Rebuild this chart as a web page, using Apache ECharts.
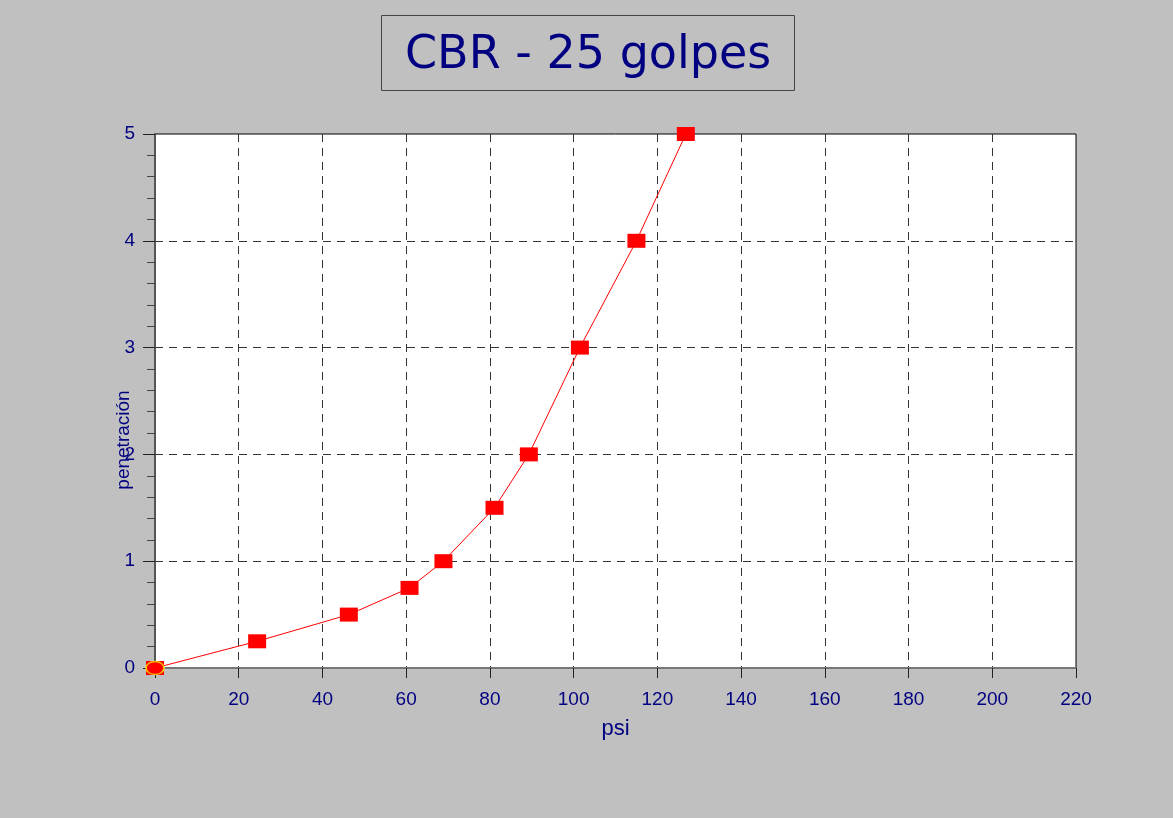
<!DOCTYPE html>
<html>
<head>
<meta charset="utf-8">
<script src="https://cdn.jsdelivr.net/npm/echarts@6/dist/echarts.min.js"></script>
<style>
  html, body { margin: 0; padding: 0; background: #c0c0c0; }
  #chart { width: 1173px; height: 818px; }
</style>
</head>
<body>
<div id="chart"></div>
<script>
// CBR curve, 25 blows: load (psi) vs penetration
const psi = [0, 24.4, 46.3, 60.8, 68.9, 81.1, 89.3, 101.5, 115.0, 126.8];
const penetracion = [0, 0.25, 0.5, 0.75, 1, 1.5, 2, 3, 4, 5];
const xTicks = [0, 20, 40, 60, 80, 100, 120, 140, 160, 180, 200, 220];
const yTicks = [0, 1, 2, 3, 4, 5];

const navy = '#000080';
const points = psi.map(function (x, i) { return [x, penetracion[i]]; });

const chart = echarts.init(document.getElementById('chart'));
chart.setOption({
  animation: false,
  backgroundColor: '#c0c0c0',
  title: {
    text: 'CBR - 25 golpes',
    left: 381, top: 15,
    padding: [18, 24, 12, 24],
    backgroundColor: '#c0c0c0',
    borderColor: '#444',
    borderWidth: 1,
    textStyle: { color: navy, fontSize: 46, fontWeight: 'normal', fontFamily: 'DejaVu Sans' }
  },
  grid: {
    left: 155, right: 97, top: 134, bottom: 150,
    show: true, backgroundColor: '#fff', borderColor: '#000', borderWidth: 1
  },
  xAxis: {
    type: 'value',
    min: xTicks[0], max: xTicks[xTicks.length - 1], interval: 20,
    name: 'psi', nameLocation: 'middle', nameGap: 50,
    nameTextStyle: { color: navy, fontSize: 22, fontFamily: 'Liberation Sans' },
    axisLine: { show: true, onZero: false, lineStyle: { color: '#777', width: 2 } },
    axisTick: { show: true, length: 10, lineStyle: { color: '#222' } },
    axisLabel: { color: navy, fontSize: 19, fontFamily: 'Liberation Sans', margin: 22 },
    splitLine: { show: true, showMinLine: false, showMaxLine: false, lineStyle: { color: '#333', type: [8, 6], width: 1 } }
  },
  yAxis: {
    type: 'value',
    min: yTicks[0], max: yTicks[yTicks.length - 1], interval: 1,
    name: 'penetración', nameLocation: 'middle', nameGap: 22, nameMoveOverlap: false,
    nameTextStyle: { color: navy, fontSize: 19, fontFamily: 'Liberation Sans', padding: [0, 78, 0, 0] },
    axisLine: { show: true, lineStyle: { color: '#555', width: 2 } },
    axisTick: { show: true, length: 12, lineStyle: { color: '#222' } },
    minorTick: { show: true, splitNumber: 5, length: 8, lineStyle: { color: '#444' } },
    axisLabel: { color: navy, fontSize: 19, fontFamily: 'Liberation Sans', margin: 20 },
    splitLine: { show: true, showMinLine: false, showMaxLine: false, lineStyle: { color: '#333', type: [8, 6], width: 1 } }
  },
  series: [
    {
      type: 'line',
      data: points,
      symbol: 'rect',
      symbolSize: [18, 14],
      itemStyle: { color: '#ff0000' },
      lineStyle: { color: '#ff0000', width: 1 },
      z: 3
    },
    {
      type: 'scatter',
      data: [points[0]],
      symbol: 'circle',
      symbolSize: [18, 13],
      itemStyle: { color: '#ff0000', borderColor: '#ffee00', borderWidth: 1.5 },
      z: 4
    }
  ]
});
</script>
</body>
</html>
